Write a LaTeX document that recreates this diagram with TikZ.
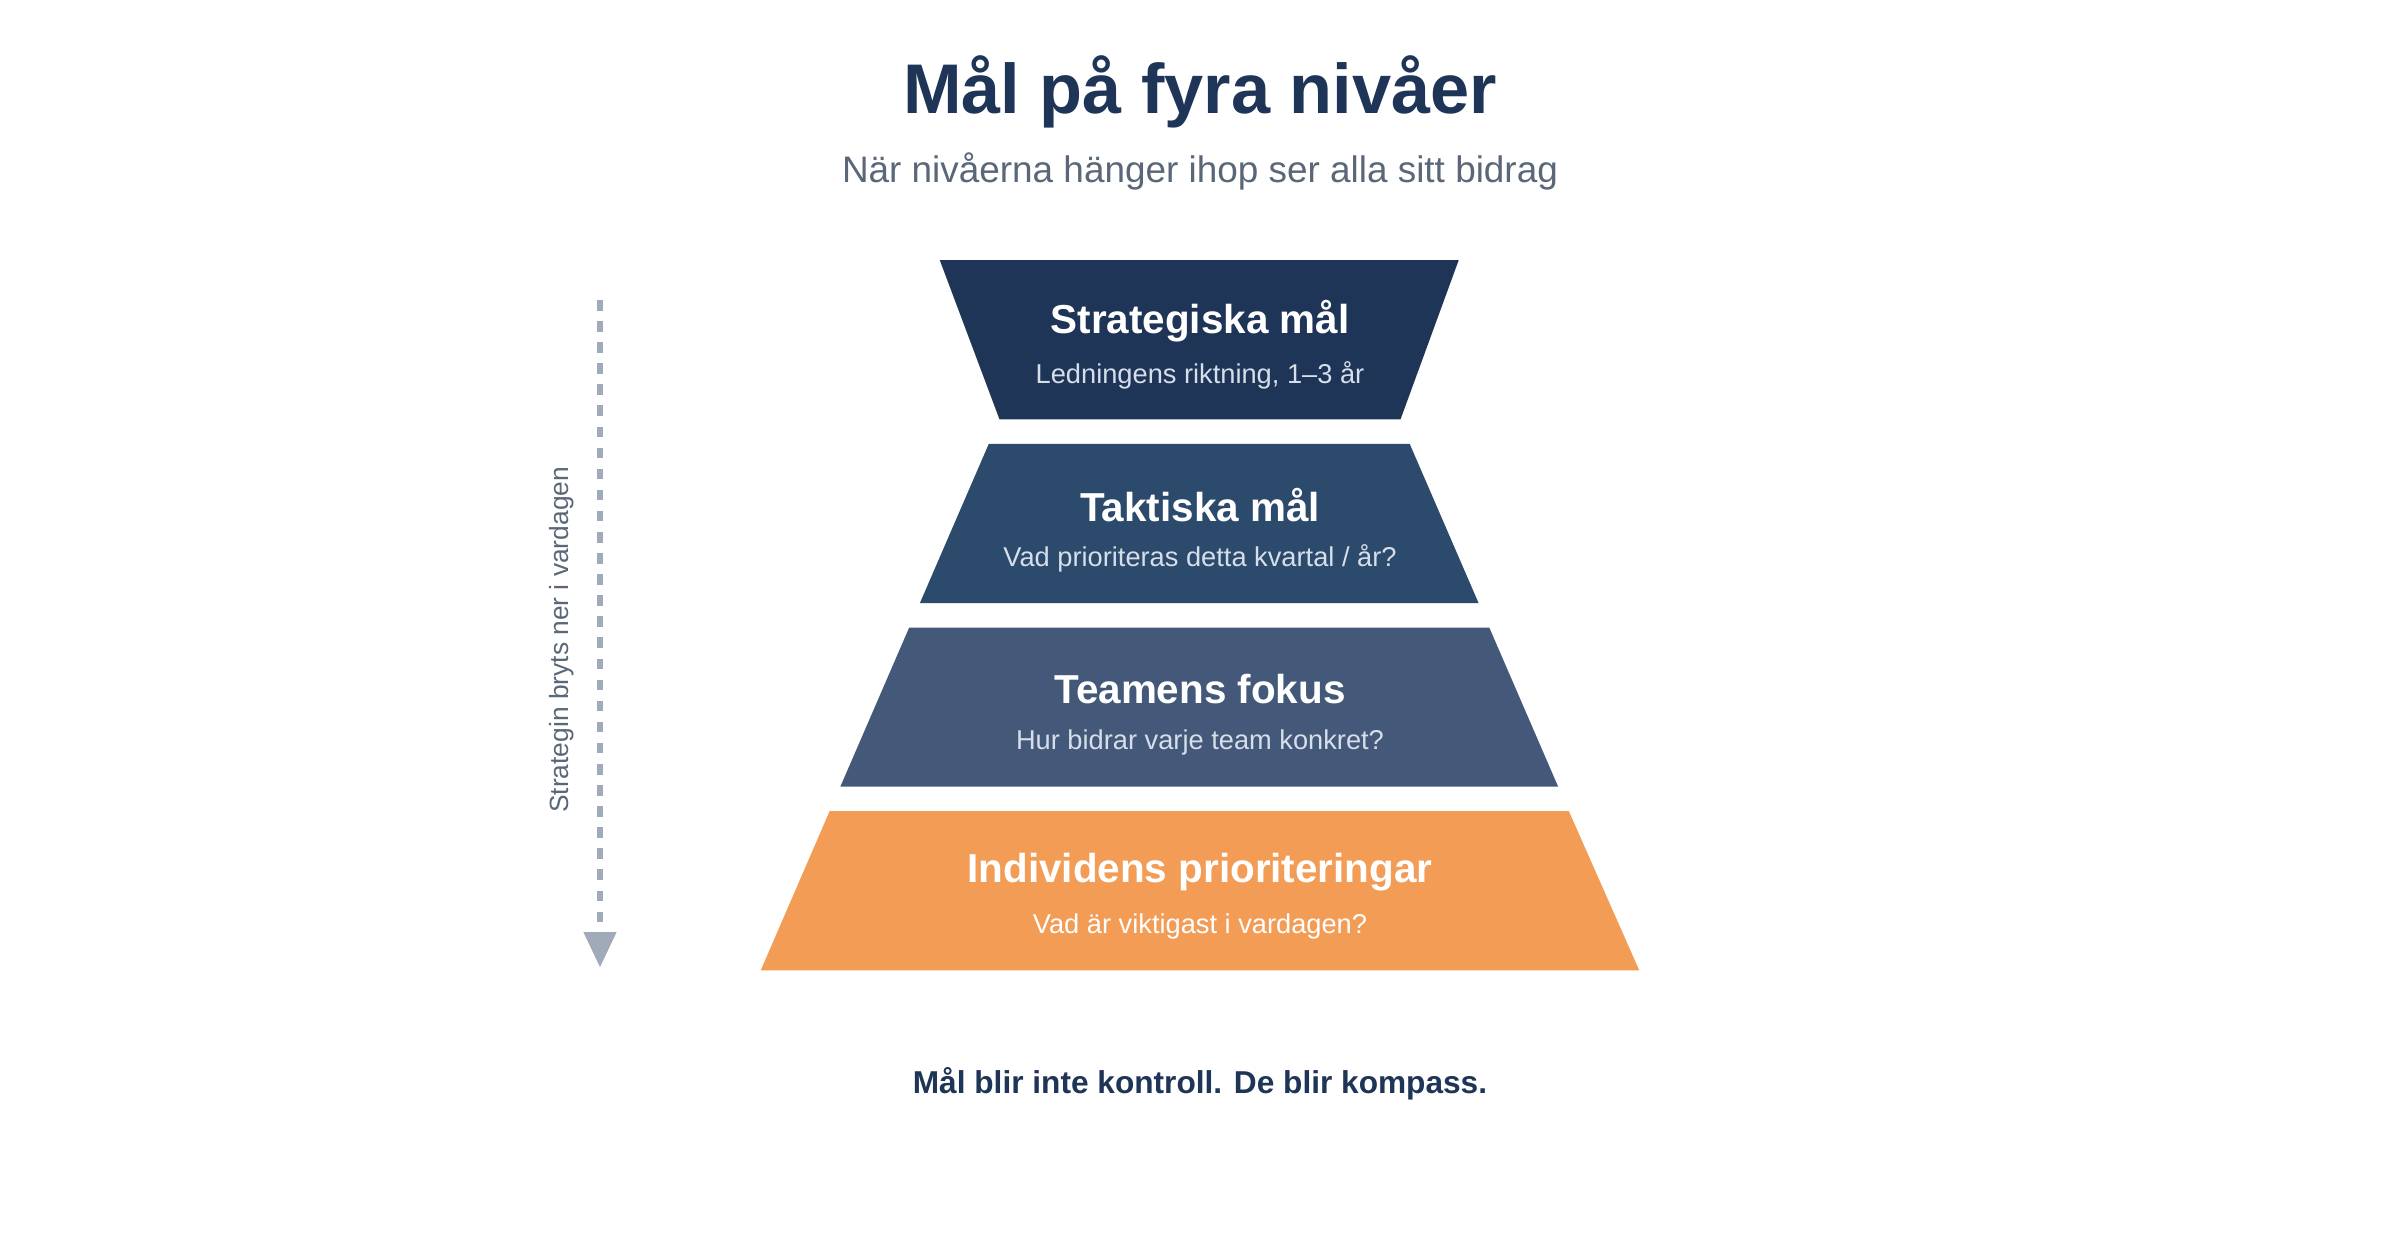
\documentclass[tikz,border=0pt]{standalone}
\usepackage{fontspec}
\setmainfont{Liberation Sans}
\usetikzlibrary{arrows.meta}
\definecolor{navy}{HTML}{1E3557}
\definecolor{c2}{HTML}{2C4A6B}
\definecolor{c3}{HTML}{44597A}
\definecolor{c4}{HTML}{F39C56}
\definecolor{sub}{HTML}{5A6778}
\definecolor{arr}{HTML}{A0AAB8}
\definecolor{lt}{HTML}{D6DEEA}
\begin{document}
\begin{tikzpicture}[x=0.030612cm,y=-0.030612cm,
  lvtitle/.style={text=white,font=\fontsize{23}{27}\selectfont\bfseries},
  lvsub/.style={text=lt,font=\fontsize{15.5}{19}\selectfont}]
\useasboundingbox[fill=white] (0,0) rectangle (1568,810);
\node[text=navy,font=\fontsize{40}{46}\selectfont\bfseries] (t) at (784,60) {Mål på fyra nivåer};
\node[text=sub,font=\fontsize{21}{25}\selectfont] (s) at (784,112) {När nivåerna hänger ihop ser alla sitt bidrag};
\fill[navy] (614,170) -- (953,170) -- (915,274) -- (653,274) -- cycle;
\fill[c2] (646,290) -- (921,290) -- (966,394) -- (601,394) -- cycle;
\fill[c3] (594,410) -- (973,410) -- (1018,514) -- (549,514) -- cycle;
\fill[c4] (542,530) -- (1025,530) -- (1071,634) -- (497,634) -- cycle;
\node[lvtitle] (a1) at (784,210) {Strategiska mål};
\node[lvsub] (b1) at (784,245) {Ledningens riktning, 1–3 år};
\node[lvtitle] (a2) at (784,330) {Taktiska mål};
\node[lvsub] (b2) at (784,365) {Vad prioriteras detta kvartal / år?};
\node[lvtitle] (a3) at (784,450) {Teamens fokus};
\node[lvsub] (b3) at (784,485) {Hur bidrar varje team konkret?};
\node[lvtitle] (a4) at (784,570) {Individens prioriteringar};
\node[lvsub,text=white] (b4) at (784,605) {Vad är viktigast i vardagen?};
\coordinate (p) at (392,196);
\coordinate (q) at (392,632);
\draw[arr,line width=3pt,dash pattern=on 6pt off 6pt,-{Triangle[length=20pt,width=18pt]}] (p) -- (q);
\node[text=sub,rotate=90,font=\fontsize{15}{18}\selectfont] (lab) at (367,418) {Strategin bryts ner i vardagen};
\node[text=navy,font=\fontsize{18}{22}\selectfont\bfseries] (f) at (784,708) {Mål blir inte kontroll. De blir kompass.};
\end{tikzpicture}
\end{document}
